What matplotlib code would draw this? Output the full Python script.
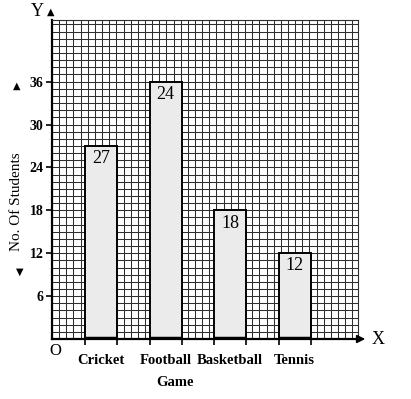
import matplotlib
matplotlib.use("Agg")
import matplotlib.pyplot as plt
import numpy as np

games = ["Cricket", "Football", "Basketball", "Tennis"]
students = [27, 36, 18, 12]
bar_labels = ["27", "24", "18", "12"]
y_ticks = [6, 12, 18, 24, 30, 36]

serif = ["Liberation Serif", "DejaVu Serif"]

W, H = 411, 399
fig = plt.figure(figsize=(W / 100, H / 100), dpi=100)
# axes box in pixels: left 52, right 358, top 20, bottom 339
ax = fig.add_axes([52 / W, 1 - 339 / H, (358 - 52) / W, (339 - 20) / H])

px_per_cat = 64.5
xlo = -49 / px_per_cat
xhi = xlo + (358 - 52) / px_per_cat
yhi = (339 - 20) / 7.15
ax.set_xlim(xlo, xhi)
ax.set_ylim(0, yhi)

# graph paper
step_x = 7.15 / px_per_cat
for gx in np.arange(xlo, xhi + 1e-6, step_x):
    ax.axvline(gx, color="#2e2e2e", lw=0.75, zorder=1)
for gy in np.arange(0, yhi + 1e-6, 1):
    ax.axhline(gy, color="#2e2e2e", lw=0.75, zorder=1)

x = np.arange(len(games))
width = 32 / px_per_cat
ax.bar(x, students, width=width, color="#ebebeb", edgecolor="black",
       linewidth=1.4, zorder=3)
for xi, h, lab in zip(x, students, bar_labels):
    ax.text(xi, h - 0.6, lab, ha="center", va="top", fontsize=13,
            family=serif, zorder=4)
    ax.plot([xi - width / 2, xi + width / 2], [0.15, 0.15], color="black",
            lw=2.5, zorder=4, solid_capstyle="butt")

for s in ["top", "right"]:
    ax.spines[s].set_linewidth(0.8)
    ax.spines[s].set_color("#2e2e2e")
ax.spines["left"].set_linewidth(1.6)
ax.spines["bottom"].set_linewidth(1.6)

ax.set_yticks(y_ticks)
ax.set_yticklabels([str(t) for t in y_ticks], family=serif,
                   fontweight="bold", fontsize=10)
ax.tick_params(axis="y", length=4, width=1.2, pad=2)
edges = np.concatenate([x - width / 2, x + width / 2])
ax.set_xticks(sorted(edges))
ax.set_xticklabels([])
ax.tick_params(axis="x", length=4, width=1.2)

for xi, g in zip(x, games):
    ax.text(xi, -2.1, g, ha="center", va="top", fontsize=10.5,
            fontweight="bold", family=serif)

# axis arrows and letters
fig.text(372 / W, 1 - 339 / H, "X", ha="left", va="center", fontsize=13,
         family=serif)
ax.annotate("", xy=(368 / W, 1 - 339 / H), xytext=(358 / W, 1 - 339 / H),
            xycoords="figure fraction",
            arrowprops=dict(arrowstyle="-|>", color="black", lw=1.2,
                            mutation_scale=12))
fig.text(37 / W, 1 - 12 / H, "Y", ha="center", va="center", fontsize=13,
         family=serif)
fig.text(51 / W, 1 - 12 / H, "\u25B2", ha="center", va="center", fontsize=7)
fig.text(17 / W, 1 - 86 / H, "\u25B2", ha="center", va="center", fontsize=7)
fig.text(20 / W, 1 - 272 / H, "\u25BC", ha="center", va="center", fontsize=7)
fig.text(55 / W, 1 - 351 / H, "O", ha="center", va="center", fontsize=12,
         family=serif)
fig.text(17 / W, 1 - 202 / H, "No. Of Students", rotation=90, ha="center",
         va="center", fontsize=11, family=serif)
fig.text(175 / W, 1 - 383 / H, "Game", ha="center", va="center",
         fontsize=10.5, fontweight="bold", family=serif)

fig.savefig("out.png", dpi=100)
